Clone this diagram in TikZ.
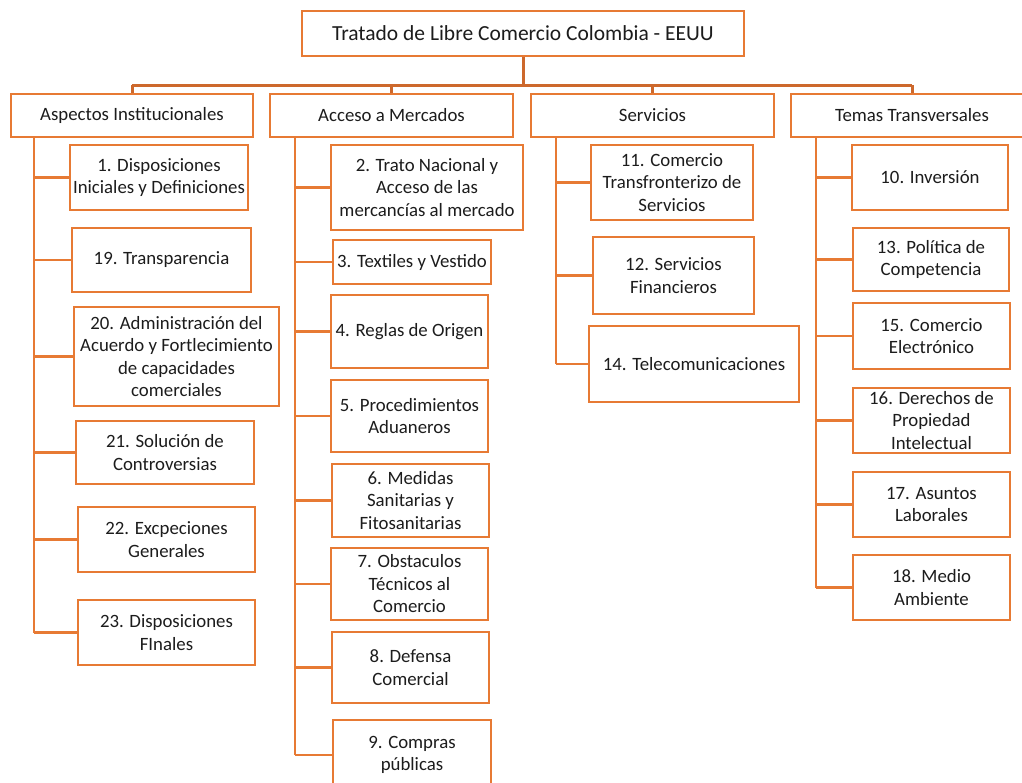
\documentclass[tikz,border=0pt]{standalone}
\usepackage{fontspec}
\setmainfont{Carlito}
\definecolor{orn}{RGB}{231,122,52}
\definecolor{ornd}{RGB}{205,104,44}
\definecolor{txt}{RGB}{28,28,28}
\newcommand{\boxfont}{\fontsize{18.8}{22.5}\selectfont}
\newcommand{\titlefont}{\fontsize{21.5}{25}\selectfont}
\tikzset{
  box/.style={draw=orn, line width=2.8pt, align=center, inner sep=0pt, text=txt, font=\boxfont},
  link/.style={draw=orn, line width=2.8pt},
  toplink/.style={draw=ornd, line width=3pt},
}
\begin{document}
\begin{tikzpicture}[x=1pt,y=-1pt]
\clip (0,0) rectangle (1022,782);
\fill[white] (0,0) rectangle (1022,782);
% title
\node[box, font=\titlefont, minimum width=442pt, minimum height=45pt] (top) at (523,33.5) {Tratado de Libre Comercio Colombia - EEUU};
% categories
\node[box, minimum width=242pt, minimum height=43pt] (A) at (132,115.5) {Aspectos Institucionales};
\node[box, minimum width=243pt, minimum height=43pt] (B) at (391.5,115.5) {Acceso a Mercados};
\node[box, minimum width=243pt, minimum height=43pt] (C) at (652.5,115.5) {Servicios};
\node[box, minimum width=242pt, minimum height=43pt] (D) at (912,115.5) {Temas Transversales};
% Aspectos children
\node[box, minimum width=178pt, minimum height=65pt] (a1) at (159,177.5) {1. Disposiciones\\Iniciales y Definiciones};
\node[box, minimum width=179pt, minimum height=64pt] (a19) at (161.5,260) {19. Transparencia};
\node[box, minimum width=205pt, minimum height=99pt] (a20) at (176.5,356.5) {20. Administración del\\Acuerdo y Fortlecimiento\\de capacidades\\comerciales};
\node[box, minimum width=178pt, minimum height=63pt] (a21) at (165,452.5) {21. Solución de\\Controversias};
\node[box, minimum width=177pt, minimum height=65pt] (a22) at (166.5,539.5) {22. Excpeciones\\Generales};
\node[box, minimum width=177pt, minimum height=65pt] (a23) at (166.5,632.5) {23. Disposiciones\\FInales};
% Acceso children
\node[box, minimum width=192pt, minimum height=85pt] (b2) at (427,187.5) {2. Trato Nacional y\\Acceso de las\\mercancías al mercado};
\node[box, minimum width=158pt, minimum height=44pt] (b3) at (412,262) {3. Textiles y Vestido};
\node[box, minimum width=157pt, minimum height=73pt] (b4) at (409.5,331.5) {4. Reglas de Origen};
\node[box, minimum width=157pt, minimum height=72pt] (b5) at (409.5,416) {5. Procedimientos\\Aduaneros};
\node[box, minimum width=157pt, minimum height=73pt] (b6) at (410.5,500.5) {6. Medidas\\Sanitarias y\\Fitosanitarias};
\node[box, minimum width=157pt, minimum height=72pt] (b7) at (409.5,584) {7. Obstaculos\\Técnicos al\\Comercio};
\node[box, minimum width=157pt, minimum height=71pt] (b8) at (410.5,667.5) {8. Defensa\\Comercial};
\node[box, minimum width=158pt, minimum height=70pt] (b9) at (412,755) {9. Compras\\públicas};
% Servicios children
\node[box, minimum width=162pt, minimum height=75pt] (c11) at (672,182.5) {11. Comercio\\Transfronterizo de\\Servicios};
\node[box, minimum width=161pt, minimum height=77pt] (c12) at (673.5,275.5) {12. Servicios\\Financieros};
\node[box, minimum width=210pt, minimum height=76pt] (c14) at (694,364) {14. Telecomunicaciones};
% Temas children
\node[box, minimum width=156pt, minimum height=65pt] (d10) at (930,177.5) {10. Inversión};
\node[box, minimum width=156pt, minimum height=63pt] (d13) at (931,259.5) {13. Política de\\Competencia};
\node[box, minimum width=157pt, minimum height=66pt] (d15) at (931.5,336) {15. Comercio\\Electrónico};
\node[box, minimum width=157pt, minimum height=65pt] (d16) at (931.5,420.5) {16. Derechos de\\Propiedad\\Intelectual};
\node[box, minimum width=157pt, minimum height=65pt] (d17) at (931.5,504.5) {17. Asuntos\\Laborales};
\node[box, minimum width=157pt, minimum height=65pt] (d18) at (931.5,587.5) {18. Medio\\Ambiente};
% top connectors
\coordinate (bus) at (523,85);
\draw[toplink] (top.south) -- (bus);
\draw[toplink] (A.north |- bus) -- (D.north |- bus);
\foreach \n in {A,B,C,D} \draw[toplink] (\n.north |- bus) -- (\n.north);
% spines
\coordinate (sA) at (34,137);
\coordinate (sB) at (295,137);
\coordinate (sC) at (556,137);
\coordinate (sD) at (816,137);
\draw[link] (sA) -- (sA |- a23.west);
\draw[link] (sB) -- (sB |- b9.west);
\draw[link, line width=2.2pt] (sC) -- (sC |- c14.west);
\draw[link] (sD) -- (sD |- d18.west);
\foreach \n in {a1,a19,a20,a21,a22,a23} \draw[link] (sA |- \n.west) -- (\n.west);
\foreach \n in {b2,b3,b4,b5,b6,b7,b8,b9} \draw[link] (sB |- \n.west) -- (\n.west);
\foreach \n in {c11,c12,c14} \draw[link, line width=2.2pt] (sC |- \n.west) -- (\n.west);
\foreach \n in {d10,d13,d15,d16,d17,d18} \draw[link] (sD |- \n.west) -- (\n.west);
\end{tikzpicture}
\end{document}
